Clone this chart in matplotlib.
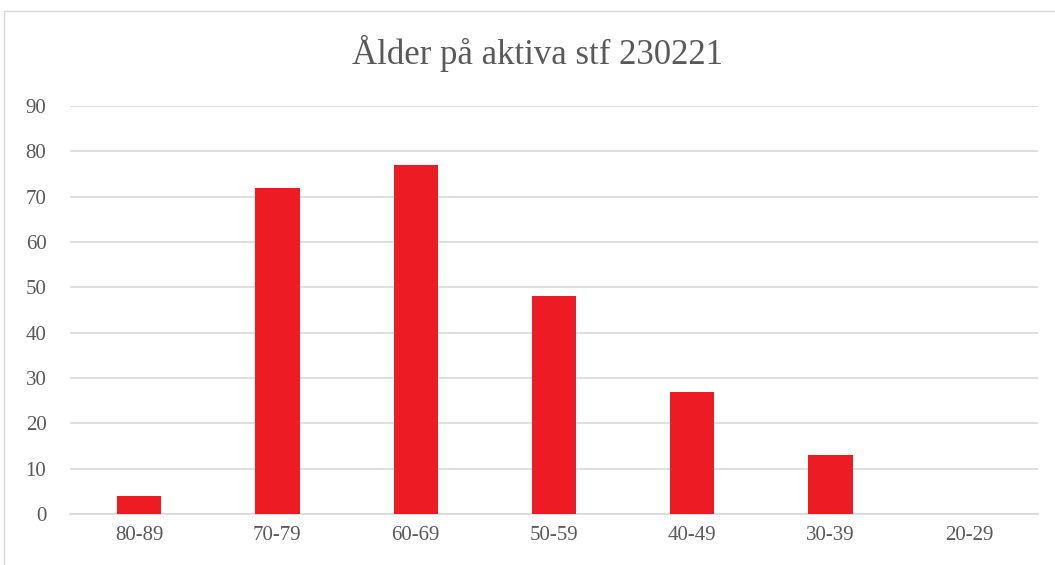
import matplotlib
matplotlib.use("Agg")
import matplotlib.pyplot as plt
from matplotlib.patches import Rectangle

categories = ["80-89", "70-79", "60-69", "50-59", "40-49", "30-39", "20-29"]
values = [4, 72, 77, 48, 27, 13, 0]
yticks = list(range(0, 91, 10))
title = "Ålder på aktiva stf 230221"

plt.rcParams['font.family'] = ['Liberation Serif', 'DejaVu Serif']
W, H = 1055, 565
fig = plt.figure(figsize=(W/100, H/100), dpi=100)
fig.patches.append(Rectangle((4/W, -0.1), 1.2, 1 - 11/H + 0.1, transform=fig.transFigure,
                             fill=False, edgecolor='#D9D9D9', linewidth=1.0))
ax = fig.add_axes([70/W, 1 - 514/H, (1038-70)/W, (514-106)/H])
x = list(range(len(categories)))
ax.bar(x, values, width=0.32, color='#ED1C24', zorder=3)
ax.set_xlim(-0.5, len(categories) - 0.5)
ax.set_ylim(0, 90)
ax.set_yticks(yticks)
ax.set_xticks(x)
ax.set_xticklabels(categories)
ax.yaxis.grid(True, color='#D9D9D9', linewidth=1.2, zorder=0)
for s in ['top', 'right', 'left']:
    ax.spines[s].set_visible(False)
ax.spines['bottom'].set_color('#D9D9D9')
ax.spines['bottom'].set_linewidth(1.2)
ax.tick_params(length=0, colors='#595959', labelsize=15)
ax.tick_params(axis='y', pad=17)
ax.tick_params(axis='x', pad=9)
fig.text(537/W, 1 - 53/H, title, ha='center', va='center', fontsize=25, color='#595959')
fig.savefig("out.png", dpi=100)
